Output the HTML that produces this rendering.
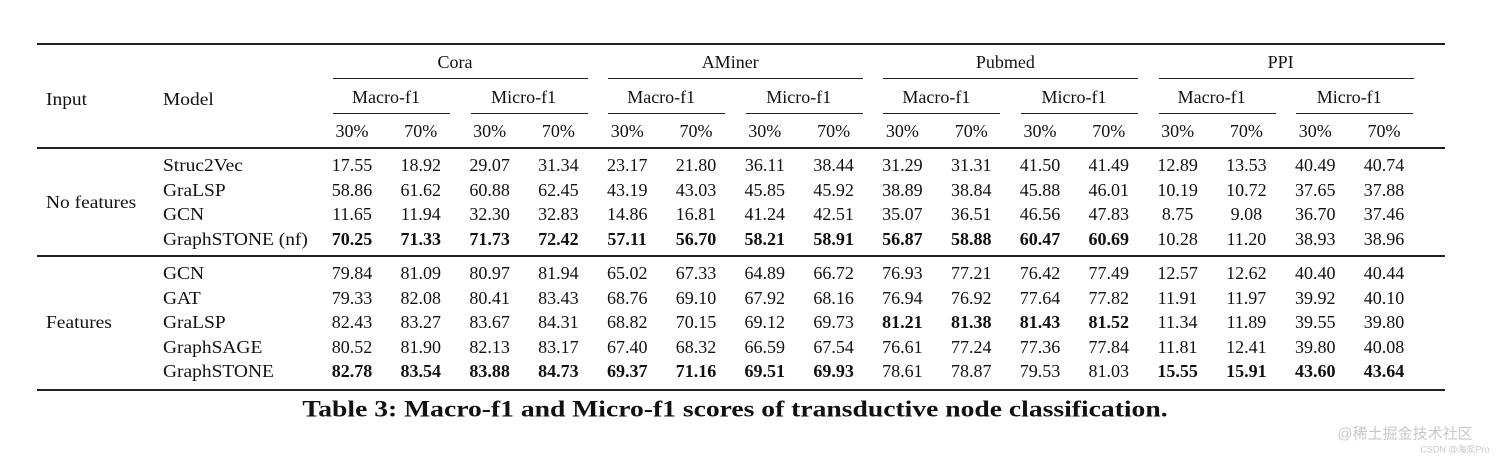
<!DOCTYPE html>
<html><head><meta charset="utf-8">
<style>
body{margin:0;background:#fff;}
#t{position:relative;width:1512px;height:459px;overflow:hidden;font-family:"Liberation Serif",serif;color:#111;font-size:18px;}
.a{position:absolute;white-space:nowrap;line-height:1;}
.c{transform:translate(-50%,-50%);}
.l{transform:translateY(-50%) scaleX(1.08);transform-origin:left center;}
.r{position:absolute;background:#222;}
</style></head>
<body>
<div id="t"></div>
<script>
const datasets=["Cora","AMiner","Pubmed","PPI"];
const metrics=["Macro-f1","Micro-f1"];
const ratios=["30%","70%"];
const nfModels=["Struc2Vec","GraLSP","GCN","GraphSTONE (nf)"];
const nfValues=[
["17.55","18.92","29.07","31.34","23.17","21.80","36.11","38.44","31.29","31.31","41.50","41.49","12.89","13.53","40.49","40.74"],
["58.86","61.62","60.88","62.45","43.19","43.03","45.85","45.92","38.89","38.84","45.88","46.01","10.19","10.72","37.65","37.88"],
["11.65","11.94","32.30","32.83","14.86","16.81","41.24","42.51","35.07","36.51","46.56","47.83","8.75","9.08","36.70","37.46"],
["70.25","71.33","71.73","72.42","57.11","56.70","58.21","58.91","56.87","58.88","60.47","60.69","10.28","11.20","38.93","38.96"]];
const nfBold=[[],[],[],[0,1,2,3,4,5,6,7,8,9,10,11]];
const fModels=["GCN","GAT","GraLSP","GraphSAGE","GraphSTONE"];
const fValues=[
["79.84","81.09","80.97","81.94","65.02","67.33","64.89","66.72","76.93","77.21","76.42","77.49","12.57","12.62","40.40","40.44"],
["79.33","82.08","80.41","83.43","68.76","69.10","67.92","68.16","76.94","76.92","77.64","77.82","11.91","11.97","39.92","40.10"],
["82.43","83.27","83.67","84.31","68.82","70.15","69.12","69.73","81.21","81.38","81.43","81.52","11.34","11.89","39.55","39.80"],
["80.52","81.90","82.13","83.17","67.40","68.32","66.59","67.54","76.61","77.24","77.36","77.84","11.81","12.41","39.80","40.08"],
["82.78","83.54","83.88","84.73","69.37","71.16","69.51","69.93","78.61","78.87","79.53","81.03","15.55","15.91","43.60","43.64"]];
const fBold=[[],[],[8,9,10,11],[],[0,1,2,3,4,5,6,7,12,13,14,15]];

const T=document.getElementById('t');
function txt(s,x,y,cls,name,bold,size){
  const e=document.createElement('div');
  e.className='a '+cls;
  e.style.left=x+'px';e.style.top=y+'px';
  if(bold)e.style.fontWeight='bold';
  if(size)e.style.fontSize=size+'px';
  e.textContent=s;
  
  
  T.appendChild(e);return e;
}
function rule(x1,x2,y,h,name){
  const e=document.createElement('div');
  e.className='r';
  e.style.left=x1+'px';e.style.width=(x2-x1)+'px';e.style.top=y+'px';e.style.height=h+'px';
  
  
  T.appendChild(e);
}
const colX=i=>352+i*68.8;
rule(37,1445,43,2,'top-rule');
rule(37,1445,147,1.5,'header-rule');
rule(37,1445,255,1.5,'section-rule');
rule(37,1445,389,2,'bottom-rule');
txt('Input',46,99,'l','input-header');
txt('Model',163,99,'l','model-header');
datasets.forEach((d,di)=>{
  const x0=colX(di*4);
  txt(d,x0+103,62,'c','dataset-header');
  rule(x0-19,x0+236,78,1,'dataset-underline');
  metrics.forEach((m,mi)=>{
    const x1=colX(di*4+mi*2);
    txt(m,x1+34,97,'c','metric-header');
    rule(x1-19,x1+98,113,1,'metric-underline');
    ratios.forEach((r,ri)=>txt(r,colX(di*4+mi*2+ri),131,'c','ratio-header'));
  });
});
function section(models,vals,bold,y0,label,ly,key){
  txt(label,46,ly,'l',key+'-group-label');
  models.forEach((m,i)=>{
    const y=y0+i*24.5;
    txt(m,163,y,'l','model-name');
    vals[i].forEach((v,j)=>txt(v,colX(j),y,'c','score-cell',bold[i].includes(j)));
  });
}
section(nfModels,nfValues,nfBold,165,'No features',202,'no-features');
section(fModels,fValues,fBold,273,'Features',322,'features');
const cap=txt('Table 3: Macro-f1 and Micro-f1 scores of transductive node classification.',735,409,'c','table-caption',true,23);
cap.style.transform='translate(-50%,-50%) scaleX(1.2)';
const w1=txt('@稀土掘金技术社区',1405,434,'c','watermark',false,15);
w1.style.color='#c8c8c8';w1.style.fontFamily='"Liberation Sans","Noto Sans CJK SC",sans-serif';
const w2=txt('CSDN @海浆Pro',1455,450,'c','csdn-watermark',false,9);
w2.style.color='#c8c8c8';w2.style.fontFamily='"Liberation Sans","Noto Sans CJK SC",sans-serif';
</script>
</body></html>
